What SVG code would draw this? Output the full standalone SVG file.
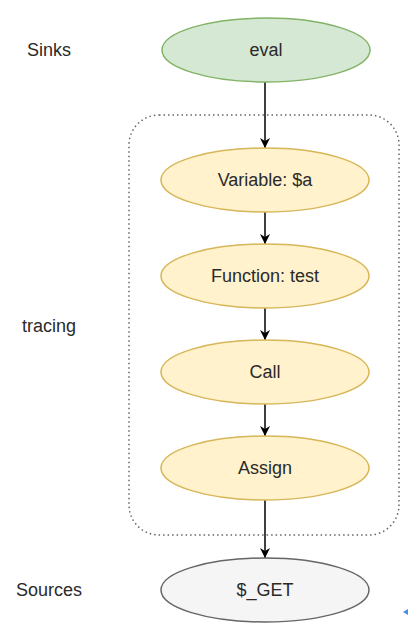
<svg xmlns="http://www.w3.org/2000/svg" width="408" height="626" viewBox="0 0 408 626">
<style>
text{font-family:"Liberation Sans",Arial,sans-serif;font-size:18px;fill:#2a2a2a;text-anchor:middle;dominant-baseline:central}
.g{fill:#d5e8d4;stroke:#82b366;stroke-width:1.5}
.y{fill:#fff2cc;stroke:#d6b656;stroke-width:1.5}
.s{fill:#f5f5f5;stroke:#666;stroke-width:1.5}
.c line{stroke:#000;stroke-width:1.5;marker-end:url(#a)}
</style>
<defs>
<marker id="a" viewBox="0 0 10 10" refX="10" refY="5" markerWidth="10" markerHeight="10" markerUnits="userSpaceOnUse" orient="auto">
<path d="M0,0 L10,5 L0,10 L3,5 z" fill="#000"/>
</marker>
</defs>
<rect width="408" height="626" fill="#fff"/>
<g id="tracing-group">
<rect x="129" y="115" width="270" height="420" rx="30" fill="none" stroke="#666" stroke-width="1.5" stroke-dasharray="1.5 3"/>
</g>
<g id="label-sinks"><text x="49" y="50">Sinks</text></g>
<g id="label-tracing"><text x="49" y="326">tracing</text></g>
<g id="label-sources"><text x="49" y="590">Sources</text></g>
<g class="c" id="connectors">
<line x1="265" y1="82" x2="265" y2="148"/>
<line x1="265" y1="212" x2="265" y2="244"/>
<line x1="265" y1="308" x2="265" y2="340"/>
<line x1="265" y1="404" x2="265" y2="436"/>
<line x1="265" y1="500" x2="265" y2="558"/>
</g>
<g id="eval"><ellipse class="g" cx="266" cy="50" rx="104" ry="32"/><text x="266" y="50">eval</text></g>
<g id="variable"><ellipse class="y" cx="265" cy="180" rx="104" ry="32"/><text x="265" y="180">Variable: $a</text></g>
<g id="function"><ellipse class="y" cx="265" cy="276" rx="104" ry="32"/><text x="265" y="276">Function: test</text></g>
<g id="call"><ellipse class="y" cx="265" cy="372" rx="104" ry="32"/><text x="265" y="372">Call</text></g>
<g id="assign"><ellipse class="y" cx="265" cy="468" rx="104" ry="32"/><text x="265" y="468">Assign</text></g>
<g id="get"><ellipse class="s" cx="265" cy="590" rx="104" ry="32"/><text x="265" y="590">$_GET</text></g>
<polygon points="403,612 408,609 408,615" fill="#4a90e2"/>
</svg>
